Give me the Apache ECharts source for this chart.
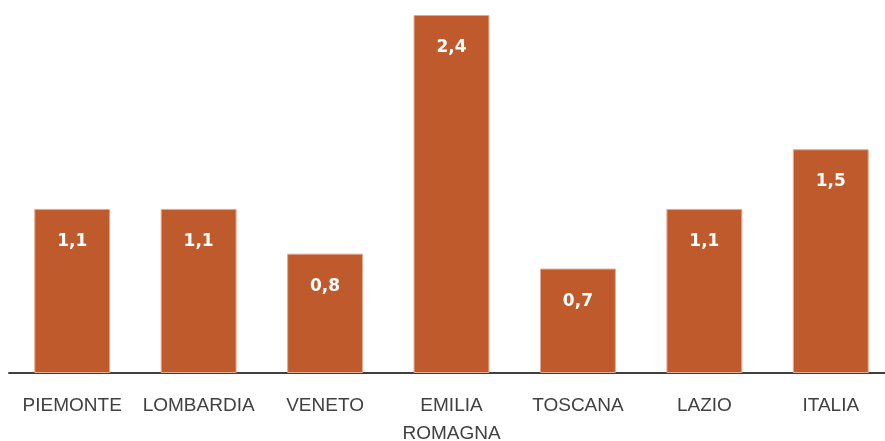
<!DOCTYPE html>
<html><head><meta charset="utf-8">
<script src="https://cdn.jsdelivr.net/npm/echarts@6/dist/echarts.min.js"></script>
<style>html,body{margin:0;padding:0;background:#fff}#c{width:885px;height:441px}</style>
</head><body><div id="c"></div>
<script>
const categories = ['PIEMONTE', 'LOMBARDIA', 'VENETO', 'EMILIA\nROMAGNA', 'TOSCANA', 'LAZIO', 'ITALIA'];
const values = [1.1, 1.1, 0.8, 2.4, 0.7, 1.1, 1.5];

const chart = echarts.init(document.getElementById('c'), null, {renderer: 'canvas'});
chart.setOption({
  animation: false,
  grid: {left: 9, width: 885, top: 15, bottom: 68, containLabel: false, outerBoundsMode: 'none'},
  xAxis: {
    type: 'category',
    data: categories,
    axisLine: {lineStyle: {color: '#404040', width: 2}},
    axisTick: {show: false},
    axisLabel: {color: '#404040', fontFamily: 'Liberation Sans', fontSize: 19, margin: 19, lineHeight: 28, interval: 0}
  },
  yAxis: {
    type: 'value', min: 0, max: 2.4,
    show: false,
    splitLine: {show: false}
  },
  series: [{
    type: 'bar',
    data: values,
    barWidth: '60%',
    itemStyle: {color: '#BE5A2C', borderColor: '#E3A98C', borderWidth: 1},
    label: {
      show: true, position: 'insideTop', distance: 24,
      color: '#fff', fontWeight: 'bold', fontFamily: 'DejaVu Sans', fontSize: 17,
      formatter: p => String(p.value).replace('.', ',')
    }
  }]
});
</script></body></html>
